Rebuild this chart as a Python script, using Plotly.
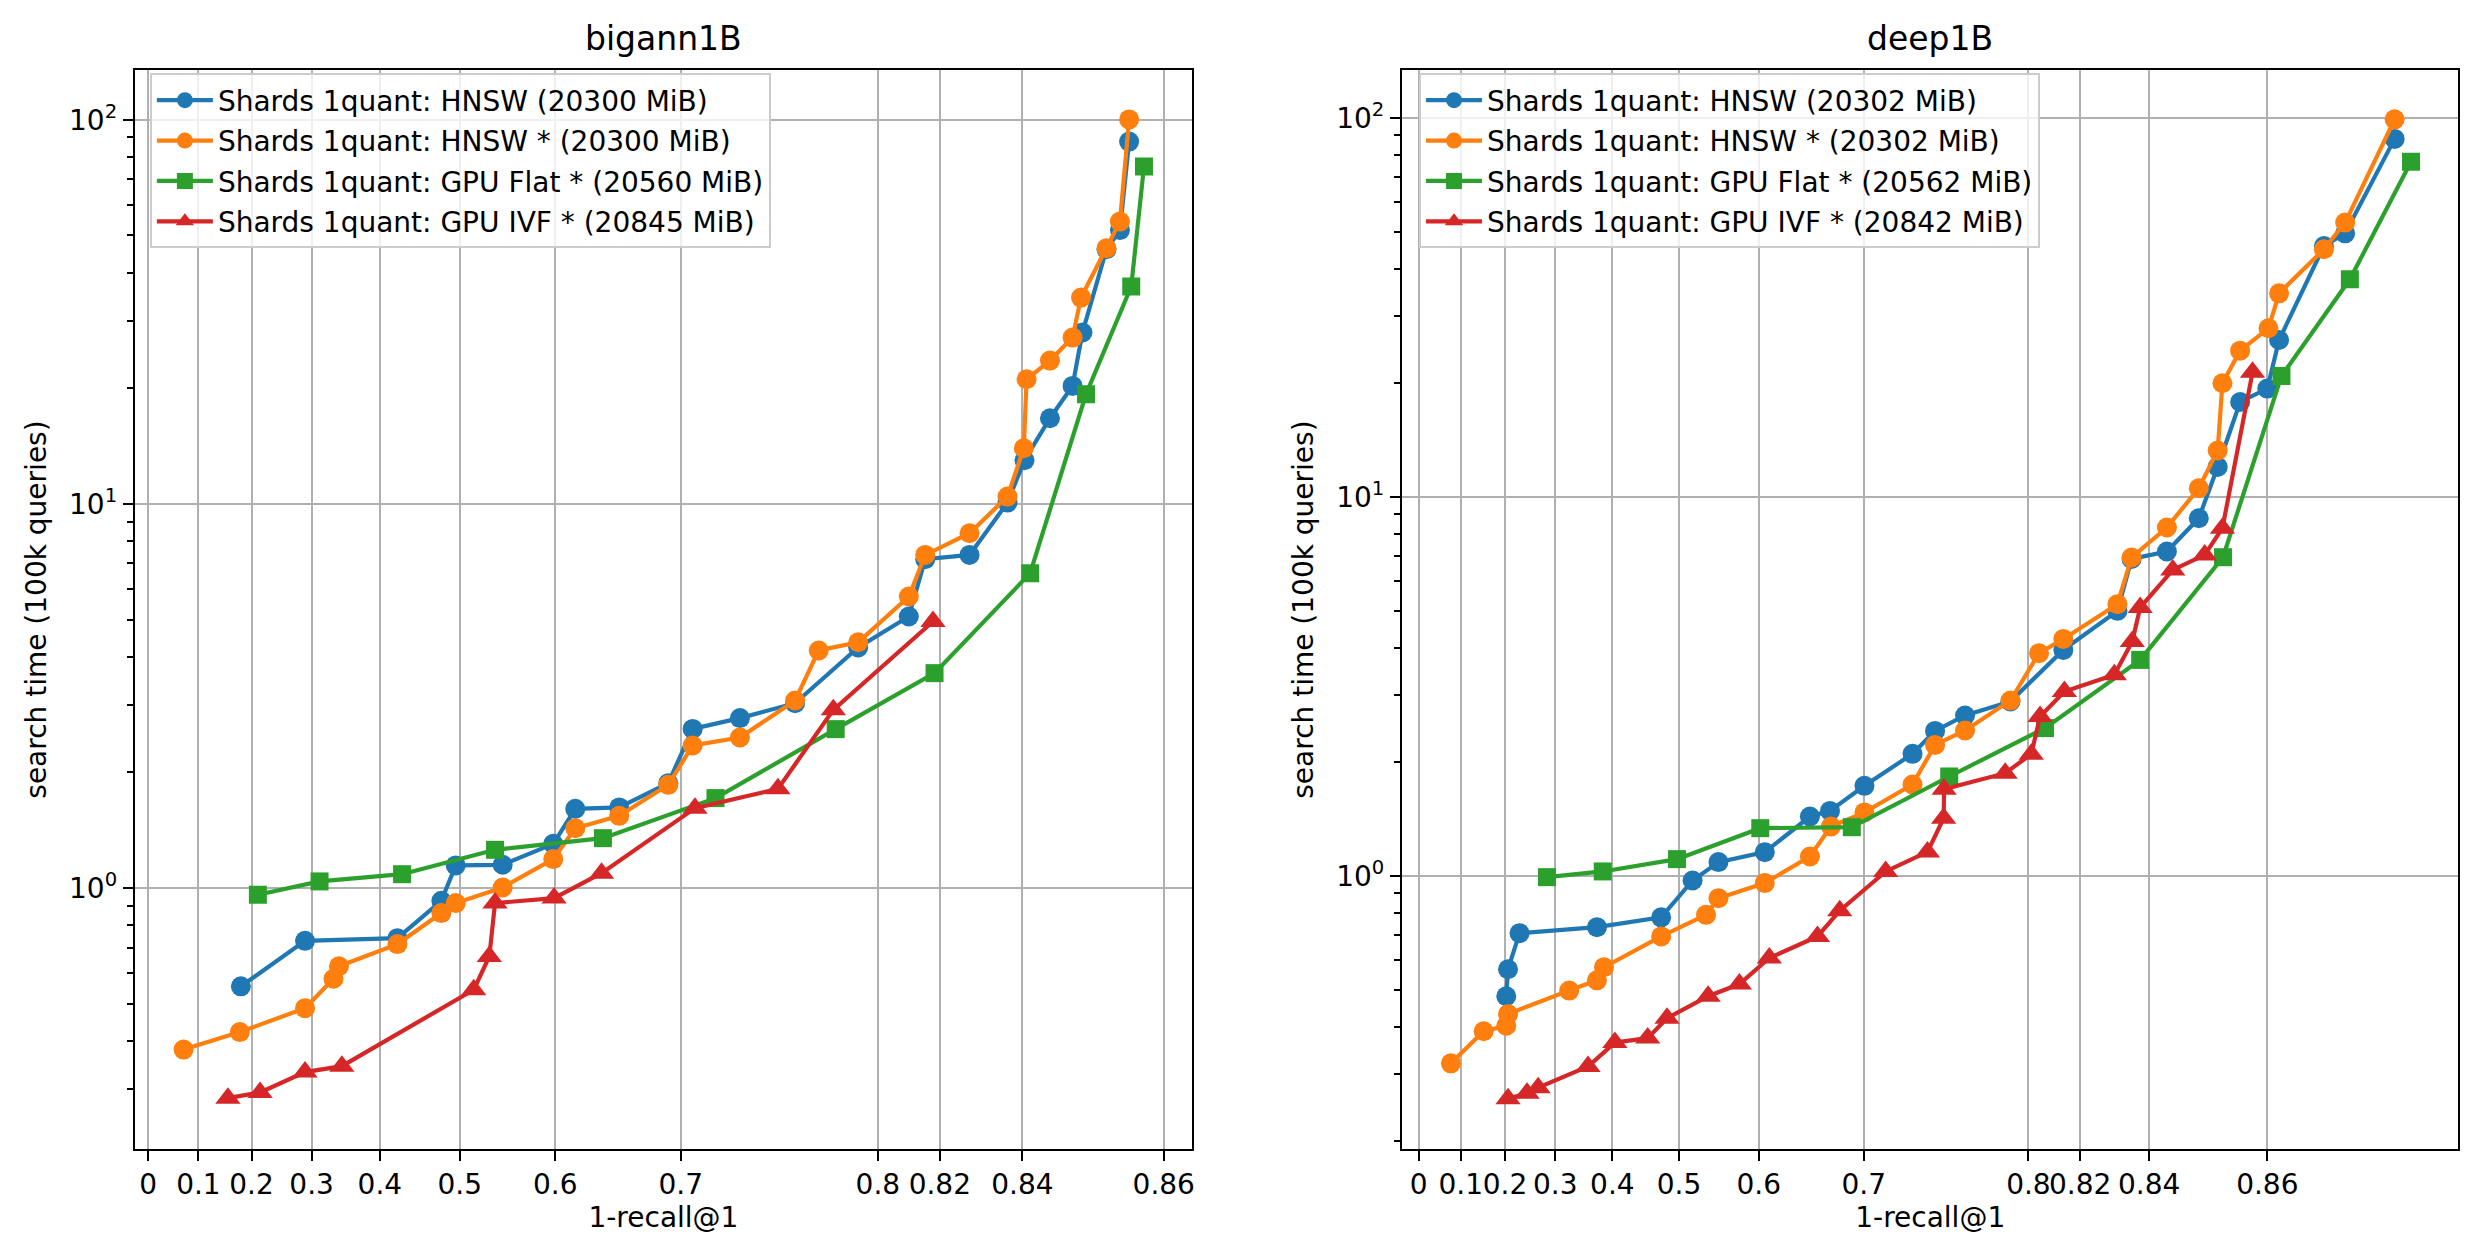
import numpy as np
import plotly.graph_objects as go

# x axis of the original uses a warped scale: tick labels and where they sit
scale_recall = [0, 0.1, 0.2, 0.3, 0.4, 0.5, 0.6, 0.7, 0.8, 0.82, 0.84, 0.86, 0.87, 0.875]
scale_pos = [0, 0.0495, 0.1018, 0.1610, 0.2282, 0.3068, 0.4008, 0.5245, 0.7185, 0.7795, 0.8608, 1.0, 1.139, 1.277]
tick_labels = ['0', '0.1', '0.2', '0.3', '0.4', '0.5', '0.6', '0.7', '0.8', '0.82', '0.84', '0.86']

# bigann1B
bigann_hnsw_x = [0.180, 0.289, 0.422, 0.477, 0.495, 0.545, 0.598, 0.616, 0.651, 0.690, 0.706, 0.730, 0.758,
                 0.790, 0.810, 0.8153, 0.8272, 0.8364, 0.8403, 0.8439, 0.8471, 0.8485, 0.8519, 0.8538, 0.8551]
bigann_hnsw_y = [0.555, 0.729, 0.741, 0.927, 1.146, 1.150, 1.304, 1.608, 1.622, 1.876, 2.597, 2.770, 3.029,
                 4.230, 5.093, 7.179, 7.366, 10.08, 12.99, 16.71, 20.28, 27.93, 46.0, 51.6, 87.7]
bigann_hnsw_star_x = [0.0705, 0.178, 0.289, 0.332, 0.340, 0.422, 0.477, 0.495, 0.545, 0.598, 0.616, 0.651, 0.690,
                      0.706, 0.730, 0.758, 0.770, 0.790, 0.810, 0.8153, 0.8272, 0.8364, 0.8402, 0.8406, 0.8439,
                      0.8471, 0.8483, 0.8519, 0.8538, 0.8551]
bigann_hnsw_star_y = [0.380, 0.422, 0.487, 0.581, 0.626, 0.715, 0.861, 0.914, 1.004, 1.190, 1.432, 1.542, 1.857,
                      2.351, 2.466, 3.078, 4.155, 4.366, 5.741, 7.366, 8.388, 10.45, 13.96, 21.11, 23.61,
                      27.10, 34.44, 46.3, 54.3, 100.2]
bigann_flat_x = [0.2106, 0.3116, 0.4278, 0.537, 0.638, 0.7176, 0.7786, 0.8183, 0.8411, 0.849, 0.8554, 0.8572]
bigann_flat_y = [0.961, 1.041, 1.087, 1.258, 1.349, 1.715, 2.593, 3.627, 6.60, 19.29, 36.79, 75.5]
bigann_ivf_x = [0.1556, 0.2143, 0.289, 0.3443, 0.5147, 0.531, 0.537, 0.5988, 0.6369, 0.7072, 0.7493, 0.7774, 0.8178]
bigann_ivf_y = [0.284, 0.294, 0.332, 0.344, 0.544, 0.664, 0.914, 0.942, 1.094, 1.615, 1.813, 2.911, 4.943]

# deep1B
deep_hnsw_x = [0.2024, 0.2059, 0.2288, 0.373, 0.4732, 0.517, 0.5494, 0.6057, 0.6487, 0.6678, 0.7004, 0.7296,
               0.7433, 0.7615, 0.7891, 0.8135, 0.8308, 0.8349, 0.843, 0.8484, 0.8516, 0.8554, 0.8600, 0.8610,
               0.8648, 0.8666, 0.8704]
deep_hnsw_y = [0.481, 0.567, 0.706, 0.732, 0.777, 0.972, 1.087, 1.155, 1.434, 1.484, 1.728, 2.099,
               2.413, 2.650, 2.885, 3.947, 5.004, 6.862, 7.176, 8.786, 12.0, 17.81, 19.32, 25.96,
               45.96, 49.63, 88.1]
deep_hnsw_star_x = [0.0767, 0.1518, 0.2024, 0.2059, 0.3244, 0.373, 0.3854, 0.4732, 0.5338, 0.5494, 0.6057,
                    0.6487, 0.6687, 0.7004, 0.7296, 0.7433, 0.7615, 0.7891, 0.8041, 0.8135, 0.8308, 0.8349,
                    0.843, 0.8484, 0.8516, 0.8524, 0.8554, 0.8601, 0.8610, 0.8648, 0.8666, 0.8704]
deep_hnsw_star_y = [0.320, 0.389, 0.402, 0.432, 0.498, 0.530, 0.574, 0.692, 0.789, 0.873, 0.957,
                    1.125, 1.350, 1.470, 1.742, 2.216, 2.419, 2.903, 3.869, 4.220, 5.212, 6.921,
                    8.306, 10.54, 13.26, 19.95, 24.33, 27.87, 34.47, 45.04, 52.97, 99.2]
deep_flat_x = [0.2834, 0.3832, 0.497, 0.6014, 0.6886, 0.7519, 0.8064, 0.8374, 0.8525, 0.8612, 0.8670, 0.8711]
deep_flat_y = [0.992, 1.027, 1.107, 1.336, 1.344, 1.829, 2.454, 3.715, 6.933, 20.86, 37.53, 76.7]
deep_ivf_x = [0.2059, 0.2438, 0.2659, 0.3574, 0.4038, 0.453, 0.482, 0.5365, 0.5757, 0.610, 0.6559, 0.6771,
              0.7133, 0.7387, 0.7485, 0.7488, 0.7859, 0.8011, 0.8045, 0.8139, 0.8299, 0.8351, 0.8374,
              0.844, 0.8494, 0.8524, 0.8575]
deep_ivf_y = [0.258, 0.267, 0.276, 0.314, 0.363, 0.373, 0.421, 0.481, 0.518, 0.607, 0.692, 0.809,
              1.027, 1.156, 1.420, 1.693, 1.866, 2.095, 2.634, 3.066, 3.392, 4.154, 5.107,
              6.419, 7.031, 8.27, 21.33]

bigann_names = ['Shards 1quant: HNSW (20300 MiB)', 'Shards 1quant: HNSW * (20300 MiB)',
                'Shards 1quant: GPU Flat * (20560 MiB)', 'Shards 1quant: GPU IVF * (20845 MiB)']
deep_names = ['Shards 1quant: HNSW (20302 MiB)', 'Shards 1quant: HNSW * (20302 MiB)',
              'Shards 1quant: GPU Flat * (20562 MiB)', 'Shards 1quant: GPU IVF * (20842 MiB)']

colors = ['#1f77b4', '#ff7f0e', '#2ca02c', '#d62728']
symbols = ['circle', 'circle', 'square', 'triangle-up']
sizes = [20, 20, 18, 22]
FONT = 'DejaVu Sans'


def warp(x):
    return np.interp(x, scale_recall, scale_pos)


fig = go.Figure()

panels = [
    ('x', 'y', 'legend', bigann_names,
     [(bigann_hnsw_x, bigann_hnsw_y), (bigann_hnsw_star_x, bigann_hnsw_star_y),
      (bigann_flat_x, bigann_flat_y), (bigann_ivf_x, bigann_ivf_y)]),
    ('x2', 'y2', 'legend2', deep_names,
     [(deep_hnsw_x, deep_hnsw_y), (deep_hnsw_star_x, deep_hnsw_star_y),
      (deep_flat_x, deep_flat_y), (deep_ivf_x, deep_ivf_y)]),
]
for xa, ya, leg, names, series in panels:
    for i, (sx, sy) in enumerate(series):
        fig.add_trace(go.Scatter(x=warp(sx), y=sy, mode='lines+markers', name=names[i],
                                 xaxis=xa, yaxis=ya, legend=leg, legendgroup=leg + str(i),
                                 line=dict(color=colors[i], width=4.2),
                                 marker=dict(symbol=symbols[i], size=sizes[i], color=colors[i],
                                             line=dict(width=0))))

tick_pos = list(warp([float(t) for t in tick_labels]))
minor_vals = [m * 10.0 ** p for p in (-1, 0, 1, 2) for m in range(2, 10)]

axis_style = dict(showline=True, mirror=True, linecolor='black', linewidth=2.2, automargin=False,
                  ticks='outside', ticklen=10, tickwidth=2.2, tickcolor='black',
                  showgrid=True, gridcolor='#b0b0b0', gridwidth=2.2, zeroline=False,
                  tickfont=dict(family=FONT, size=28, color='black'))

xstyle = dict(axis_style, tickmode='array', tickvals=tick_pos, ticktext=tick_labels, tickangle=0,
              title=dict(text='1-recall@1', font=dict(family=FONT, size=28, color='black'), standoff=4))
ystyle = dict(axis_style, type='log', tickmode='array', tickvals=[1, 10, 100],
              ticktext=['10<sup>0</sup>', '10<sup>1</sup>', '10<sup>2</sup>'],
              minor=dict(tickmode='array', tickvals=minor_vals, ticks='outside', ticklen=5.6,
                         tickwidth=1.7, tickcolor='black', showgrid=False),
              title=dict(text='search time (100k queries)', font=dict(family=FONT, size=28, color='black'),
                         standoff=14))

legend_style = dict(xanchor='left', yanchor='top', bgcolor='rgba(255,255,255,0.8)',
                    bordercolor='#cccccc', borderwidth=2, itemwidth=56, traceorder='grouped',
                    tracegroupgap=1, font=dict(family=FONT, size=28, color='black'))

fig.update_layout(
    width=2472, height=1247, autosize=False,
    margin=dict(l=0, r=0, t=0, b=0),
    paper_bgcolor='white', plot_bgcolor='white',
    font=dict(family=FONT, size=28, color='black'),
    xaxis=dict(xstyle, domain=[0.0513, 0.479], range=[-0.0131, 1.0279]),
    yaxis=dict(ystyle, domain=[0.0852, 0.950], range=[-0.6784, 2.1285], anchor='x'),
    xaxis2=dict(xstyle, domain=[0.5639, 0.9913], range=[-0.0197, 1.2253], anchor='y2'),
    yaxis2=dict(ystyle, domain=[0.0852, 0.950], range=[-0.7203, 2.1259], anchor='x2'),
    legend=dict(legend_style, x=0.0574, y=0.9475),
    legend2=dict(legend_style, x=0.5708, y=0.9475),
    annotations=[
        dict(text='bigann1B', x=(0.0513 + 0.479) / 2, y=0.950, xref='paper', yref='paper',
             xanchor='center', yanchor='bottom', yshift=10, showarrow=False,
             font=dict(family=FONT, size=33, color='black')),
        dict(text='deep1B', x=(0.5639 + 0.9913) / 2, y=0.950, xref='paper', yref='paper',
             xanchor='center', yanchor='bottom', yshift=10, showarrow=False,
             font=dict(family=FONT, size=33, color='black')),
    ],
)

fig.write_html('out.html')
